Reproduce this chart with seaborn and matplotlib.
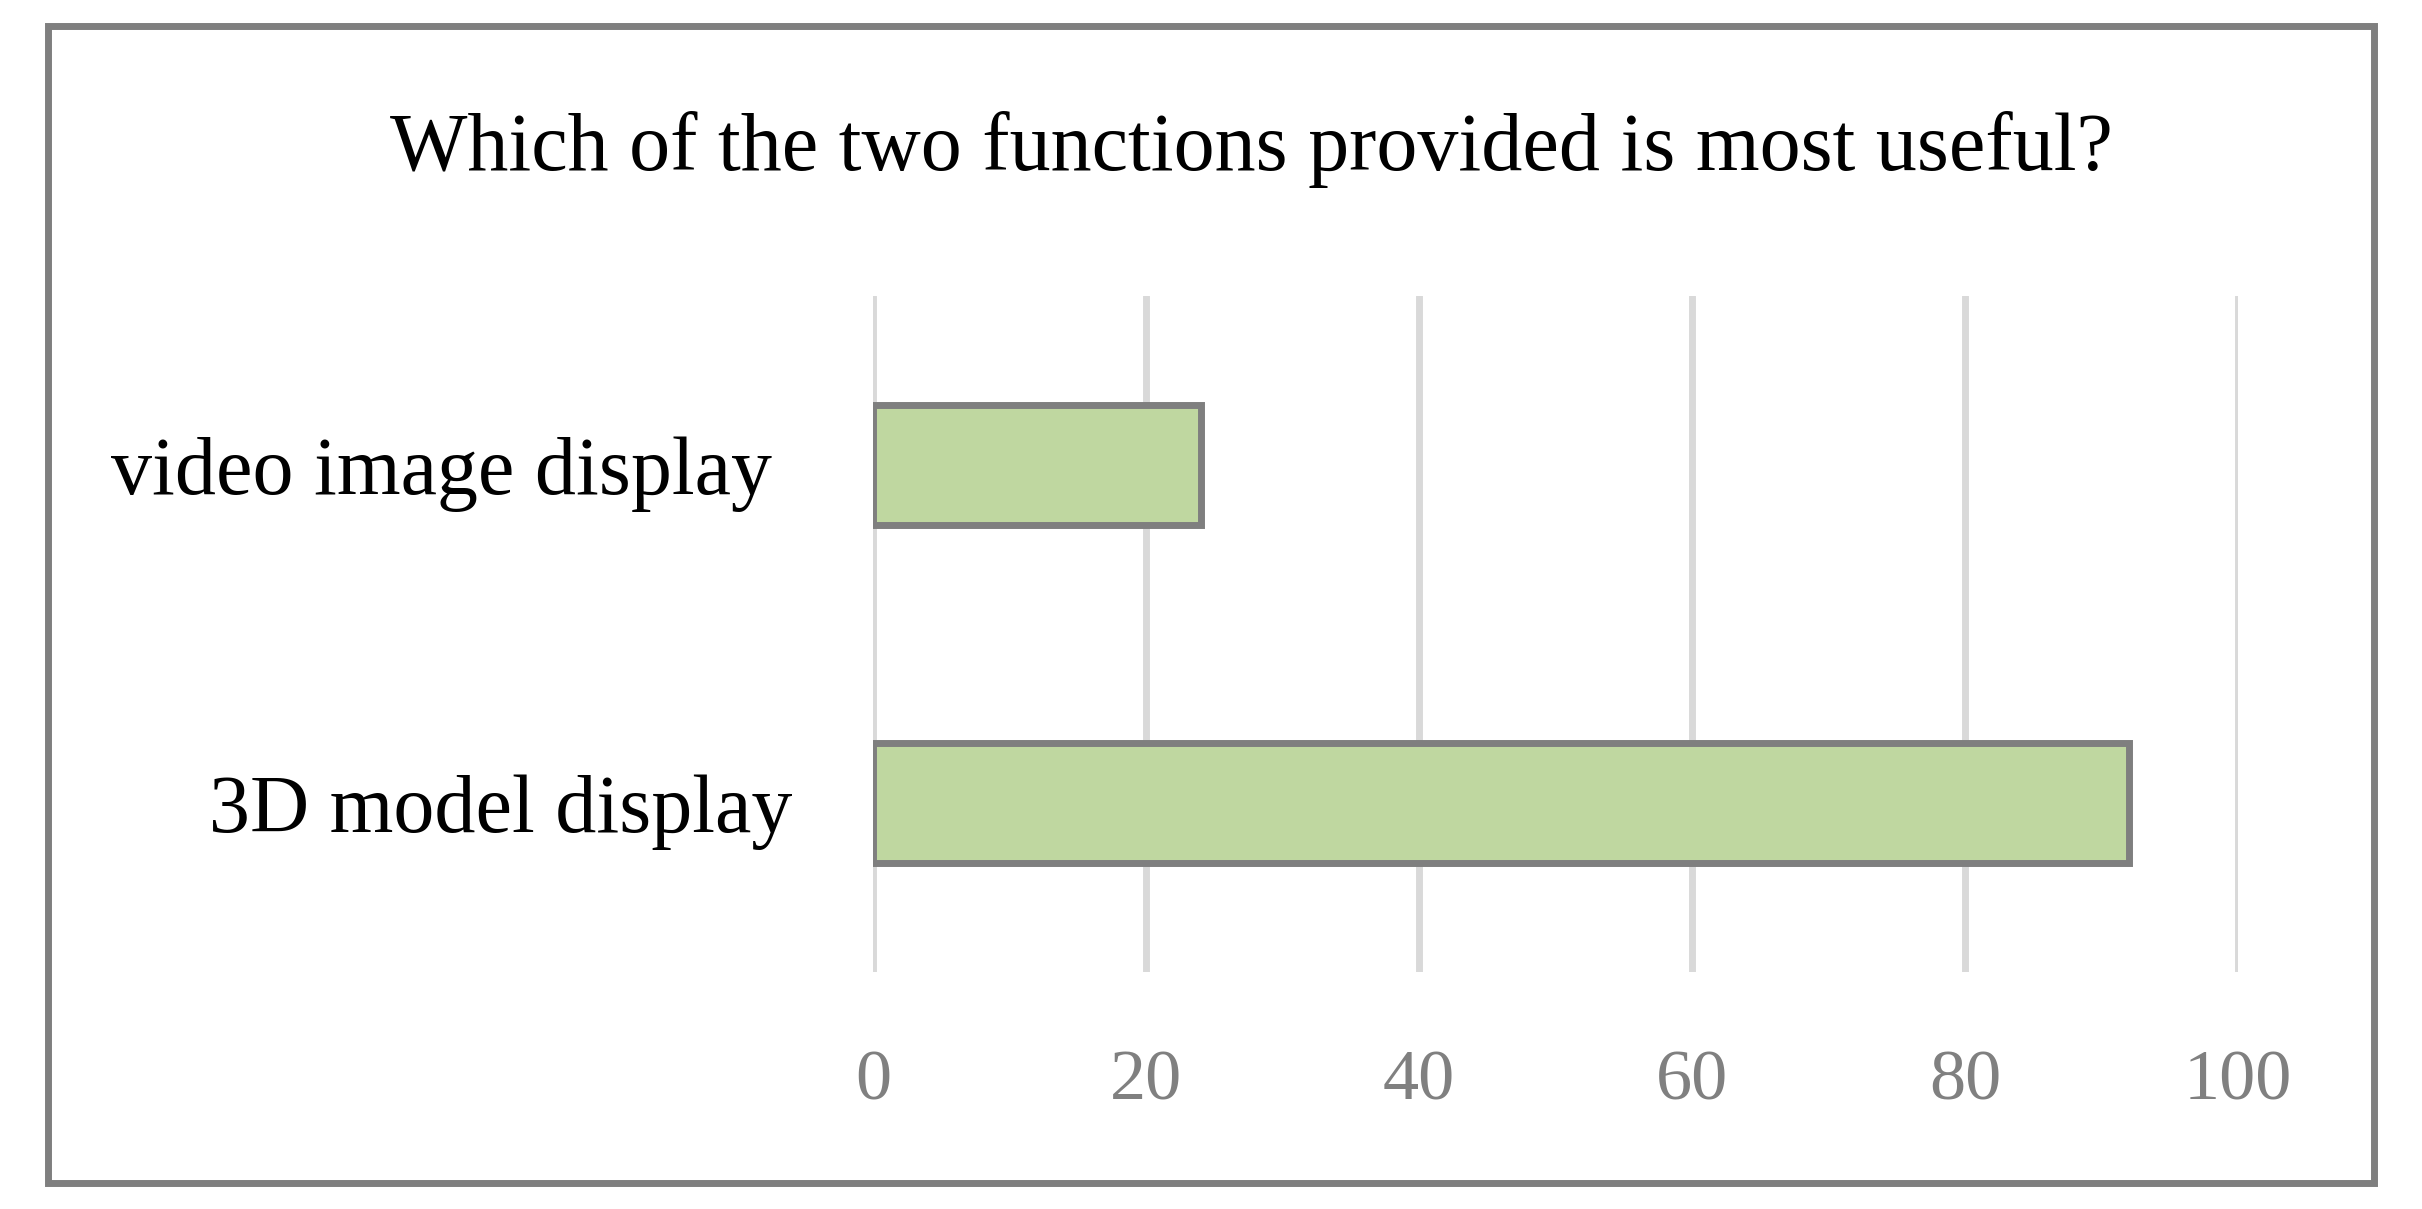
import matplotlib
matplotlib.use("Agg")
import matplotlib.pyplot as plt
from matplotlib.patches import Rectangle
import pandas as pd
import seaborn as sns

# --- data ---
categories = ["video image display ", "3D model display"]
values = [24, 92]
x_ticks = [0, 20, 40, 60, 80, 100]
title = "Which of the two functions provided is most useful?"

W, H, DPI = 2422, 1209, 200
sns.set_theme(style="white")
plt.rcParams["font.family"] = ["Liberation Serif", "DejaVu Serif"]

fig = plt.figure(figsize=(W / DPI, H / DPI), dpi=DPI)
ax = fig.add_axes([873 / W, 1 - 972 / H, (2238 - 873) / W, (972 - 296) / H])

df = pd.DataFrame({"category": categories, "value": values})
sns.barplot(data=df, x="value", y="category", orient="h", ax=ax,
            color="#BFD7A0", edgecolor="#7F7F7F", linewidth=2.5,
            width=0.355, saturation=1)

ax.set_xlim(0, 100)
ax.set_ylim(1.5, -0.5)
ax.set_xticks(x_ticks)
ax.xaxis.grid(True, color="#D9D9D9", linewidth=2.5)
ax.set_axisbelow(True)
for s in ax.spines.values():
    s.set_visible(False)
ax.set_xlabel("")
ax.set_ylabel("")
ax.tick_params(axis="x", length=0, pad=28, labelsize=26, labelcolor="#808080")
ax.tick_params(axis="y", length=0, pad=29, labelsize=29.5, labelcolor="#000000")

fig.text(1251 / W, 1 - 150 / H, title, ha="center", va="center",
         fontsize=29.5, color="#000000")

# outer chart frame
fig.patches.append(Rectangle((48 / W, 1 - 1183 / H), (2374 - 48) / W, (1183 - 26) / H,
                             transform=fig.transFigure, fill=False,
                             edgecolor="#7F7F7F", linewidth=2.5))

fig.savefig("out.png", dpi=DPI)
